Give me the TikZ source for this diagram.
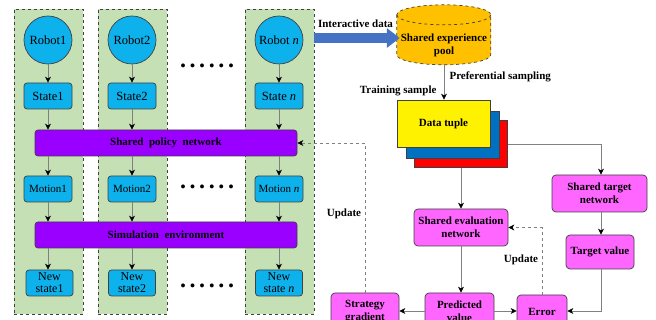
\documentclass[tikz,border=0pt]{standalone}
\usepackage{fontspec}
\setmainfont{Liberation Serif}
\usetikzlibrary{arrows.meta,positioning,calc}

\definecolor{colgreen}{HTML}{C5E0B4}
\definecolor{cellcyan}{HTML}{0DB1EC}
\definecolor{barpurple}{HTML}{9900FF}
\definecolor{netpink}{HTML}{FF66FF}
\definecolor{poolorange}{HTML}{FFC000}
\definecolor{flowblue}{HTML}{4472C4}
\definecolor{edgegray}{HTML}{808080}
\definecolor{borderdark}{HTML}{404040}
\definecolor{tupleblue}{HTML}{0070C0}

\tikzset{
  txt/.style={font=\fontsize{11}{13}\selectfont},
  bigtxt/.style={font=\fontsize{12.5}{14}\selectfont},
  pairtxt/.style={font=\fontsize{12}{12}\selectfont},
  btxt/.style={font=\fontsize{11}{13}\selectfont\bfseries},
  colbox/.style={draw=borderdark, dashed, fill=colgreen, line width=0.8pt},
  robot/.style={circle, draw=borderdark, fill=cellcyan, line width=0.7pt,
    minimum size=48pt, inner sep=0pt, bigtxt},
  cell/.style={draw=borderdark, fill=cellcyan, rounded corners=3pt, line width=0.7pt,
    minimum width=48pt, minimum height=26pt, inner sep=0pt, align=center, txt},
  bar/.style={draw=borderdark, fill=barpurple, rounded corners=3pt, line width=0.7pt,
    minimum width=262pt, minimum height=26pt, btxt},
  net/.style={draw=borderdark, fill=netpink, rounded corners=4pt, line width=0.7pt,
    inner sep=0pt, align=center, btxt},
  tuple/.style={draw=borderdark, line width=0.7pt, minimum width=93pt, minimum height=47pt},
  flow/.style={draw=edgegray, line width=0.7pt, -{Stealth[length=6pt,width=6pt,inset=1.8pt,color=black]}},
  upd/.style={flow, dashed},
  dotrow/.style={font=\fontsize{24}{24}\selectfont\bfseries},
}

\begin{document}
\begin{tikzpicture}[x=1pt,y=1pt]
\useasboundingbox (0,0) rectangle (656,-320);
\clip (0,0) rectangle (656,-320);

% agent columns
\node[colbox, minimum width=69pt, minimum height=305pt, inner sep=0pt] (col1) at (48.5,-161.5) {};
\node[colbox, minimum width=69pt, minimum height=305pt, inner sep=0pt] (col2) at (132.5,-161.5) {};
\node[colbox, minimum width=69pt, minimum height=305pt, inner sep=0pt] (col3) at (279.5,-161.5) {};

% robots
\node[robot] (r1) at (48,-40) {Robot1};
\node[robot] (r2) at (132,-40) {Robot2};
\node[robot] (rn) at (279,-40) {Robot \textit{n}};

% states
\node[cell, bigtxt] (s1) at (48,-96) {State1};
\node[cell, bigtxt] (s2) at (132,-96) {State2};
\node[cell, bigtxt] (sn) at (279,-96) {State \textit{n}};

% shared policy network
\node[bar] (policy) at (166,-143) {Shared\ \ policy\ \ network};

% motions
\node[cell] (m1) at (48,-189) {Motion1};
\node[cell] (m2) at (132,-189) {Motion2};
\node[cell] (mn) at (279,-189) {Motion \textit{n}};

% simulation environment
\node[bar] (sim) at (166,-235) {Simulation\ \ environment};

% new states
\node[cell, pairtxt, minimum width=47pt] (n1) at (49.5,-283) {New\\state1};
\node[cell, pairtxt, minimum width=47pt] (n2) at (132,-283) {New\\state2};
\node[cell, pairtxt, minimum width=47pt] (nn) at (279,-283) {New\\state \textit{n}};

% ellipsis rows
\node[dotrow] (d1) at (207,-66) {.\hspace{3.6pt}.\hspace{3.6pt}.\hspace{3.6pt}.\hspace{3.6pt}.\hspace{3.6pt}.};
\node[dotrow] (d2) at (207,-187) {.\hspace{3.6pt}.\hspace{3.6pt}.\hspace{3.6pt}.\hspace{3.6pt}.\hspace{3.6pt}.};
\node[dotrow] (d3) at (207,-286) {.\hspace{3.6pt}.\hspace{3.6pt}.\hspace{3.6pt}.\hspace{3.6pt}.\hspace{3.6pt}.};

% column flows
\foreach \r/\s/\m/\n in {r1/s1/m1/n1, r2/s2/m2/n2, rn/sn/mn/nn}{
  \draw[flow] (\r) -- (\s);
  \draw[flow] (\s) -- (\s |- policy.north);
  \draw[flow] (\s |- policy.south) -- (\m);
  \draw[flow] (\m) -- (\m |- sim.north);
  \draw[flow] (\m |- sim.south) -- (\n.north -| \m);
}

% shared experience pool (cylinder)
\node[minimum width=94pt, minimum height=60pt, inner sep=0pt] (pool) at (444,-35) {};
\draw[borderdark, dashed, line width=0.7pt, fill=poolorange]
  (pool.north west) ++(0,-10) -- ++(0,-40)
  arc[start angle=180, end angle=360, x radius=47pt, y radius=10pt]
  -- ++(0,40)
  arc[start angle=0, end angle=180, x radius=47pt, y radius=10pt] -- cycle;
\draw[borderdark, dashed, line width=0.7pt]
  (pool.north west) ++(0,-10)
  arc[start angle=180, end angle=360, x radius=47pt, y radius=10pt];
\node[btxt, align=center] (pooltext) at (444,-45) {Shared experience\\pool};

% interactive data
\coordinate (iny) at (0,-38);
\draw[flowblue, line width=10pt, -{Triangle[length=13pt,width=19pt]}]
  (col3.east |- iny) -- ([xshift=3pt]pool.west |- iny);
\node[btxt] (inlab) at (355.5,-24) {Interactive data};

% data tuple stack
\node[tuple, fill=red] (tred) at (461,-144) {};
\node[tuple, fill=tupleblue] (tblue) at (453,-134.5) {};
\node[tuple, fill=yellow, btxt] (tuple) at (443.5,-123.5) {Data tuple};

\draw[flow] (pool.south) -- (pool.south |- tuple.north);
\node[btxt, anchor=west] (preflab) at (446,-77) {Preferential sampling};
\node[btxt, anchor=east] (trainlab) at (440,-91) {Training sample};

% evaluation side
\node[net, minimum width=95pt, minimum height=37pt] (target) at (599.5,-193.5) {Shared target\\network};
\node[net, minimum width=68pt, minimum height=34pt] (tval) at (600,-252) {Target value};
\node[net, minimum width=94pt, minimum height=37pt] (eval) at (461,-227.5) {Shared evaluation\\network};
\node[net, minimum width=69pt, minimum height=37pt] (pred) at (459.5,-311.5) {Predicted\\value};
\node[net, minimum width=50pt, minimum height=34pt] (err) at (542,-312) {Error};
\node[net, minimum width=68pt, minimum height=37pt] (grad) at (365,-311.5) {Strategy\\gradient};

\coordinate (tx) at (601,0);
\draw[flow] (tred.east |- 0,-144) -| (tx |- target.north);
\draw[flow] (tx |- target.south) -- (tx |- tval.north);
\draw[flow] (tred.south -| eval) -- (eval.north);
\draw[flow] (eval.south) -- (eval.south |- pred.north);
\coordinate (by) at (0,-311);
\draw[flow] (pred.east |- by) -- (err.west |- by);
\draw[flow] (pred.west |- by) -- (grad.east |- by);
\draw[flow] (tx |- tval.south) |- (err.east |- by);

% update loops
\draw[upd] (err.north) |- (eval.east);
\node[btxt] (upd1) at (521,-260) {Update};
\draw[upd] (grad.north) |- (policy.east);
\node[btxt] (upd2) at (344,-214) {Update};
\end{tikzpicture}
\end{document}
